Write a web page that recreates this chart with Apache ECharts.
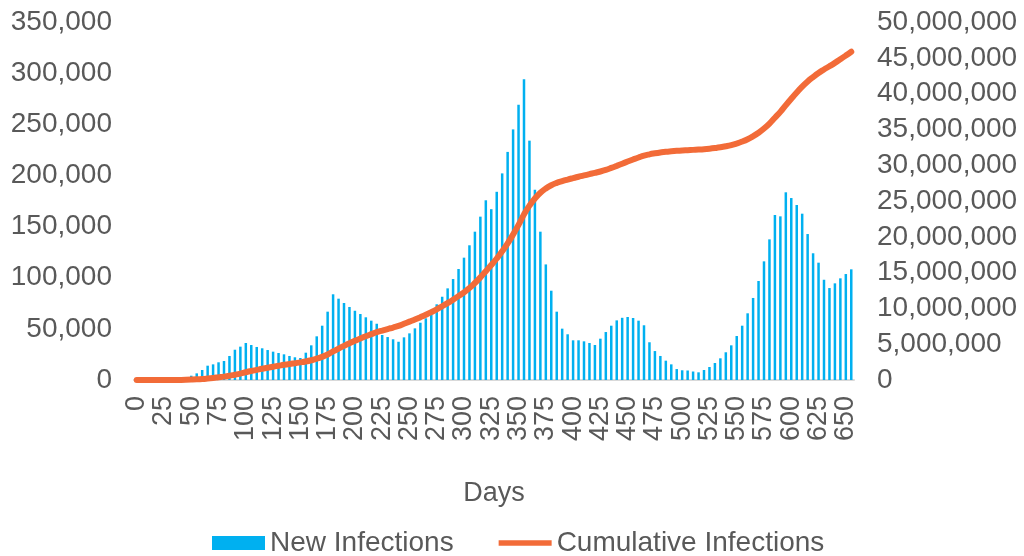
<!DOCTYPE html>
<html>
<head>
<meta charset="utf-8">
<script src="https://cdn.jsdelivr.net/npm/echarts@6/dist/echarts.min.js"></script>
<style>
  html, body { margin: 0; padding: 0; background: #ffffff; }
  #chart { width: 1024px; height: 556px; }
</style>
</head>
<body>
<div id="chart"></div>
<script>
// Day of each sample (every 5 days)
const days = [
  0, 5, 10, 15, 20, 25, 30, 35, 40, 45, 50, 55, 60, 65, 70, 75, 80, 85, 90, 95,
  100, 105, 110, 115, 120, 125, 130, 135, 140, 145, 150, 155, 160, 165, 170, 175, 180, 185, 190, 195,
  200, 205, 210, 215, 220, 225, 230, 235, 240, 245, 250, 255, 260, 265, 270, 275, 280, 285, 290, 295,
  300, 305, 310, 315, 320, 325, 330, 335, 340, 345, 350, 355, 360, 365, 370, 375, 380, 385, 390, 395,
  400, 405, 410, 415, 420, 425, 430, 435, 440, 445, 450, 455, 460, 465, 470, 475, 480, 485, 490, 495,
  500, 505, 510, 515, 520, 525, 530, 535, 540, 545, 550, 555, 560, 565, 570, 575, 580, 585, 590, 595,
  600, 605, 610, 615, 620, 625, 630, 635, 640, 645, 650, 655
];

// New infections per day
const newInfections = [
  0, 0, 0, 0, 100, 200, 400, 800, 1500, 2600, 4200, 6500, 9800, 14000, 15300, 17300, 18600, 23500, 29600, 32600,
  36200, 34200, 32300, 31000, 29300, 27700, 26400, 25100, 23500, 22200, 21500, 26700, 33900, 42700, 53100, 66800, 83800, 79500, 75300, 71400,
  67700, 64500, 61300, 58000, 55000, 44000, 42000, 39800, 37400, 41700, 45600, 50500, 56000, 60300, 65200, 74000, 81400, 89600, 98700, 108500,
  119600, 131700, 145000, 159700, 175700, 167000, 184000, 202000, 223000, 245000, 269000, 294000, 234000, 186000, 145000, 113000, 87300, 66800, 50200, 44700,
  38800, 38800, 37800, 36200, 34200, 40400, 46900, 53100, 58300, 60800, 61600, 60600, 58000, 53500, 36900, 28300, 23500, 18900, 15300, 10700,
  9500, 9300, 8300, 7500, 9800, 12700, 16600, 21200, 27100, 33900, 43000, 53100, 65200, 80200, 96800, 116000, 137500, 161300, 160000, 183500,
  177900, 171100, 162600, 142700, 123900, 114700, 98000, 89900, 94500, 99400, 103600, 108200
];

// Cumulative infections, in millions
const cumulativeMillions = [
  0, 0, 0, 0, 0, 0.002, 0.004, 0.008, 0.015, 0.03, 0.055, 0.09, 0.14, 0.21, 0.29, 0.38, 0.47, 0.59, 0.74, 0.90,
  1.08, 1.25, 1.41, 1.57, 1.72, 1.86, 1.99, 2.12, 2.24, 2.35, 2.46, 2.59, 2.76, 2.97, 3.24, 3.57, 3.99, 4.39, 4.77, 5.13,
  5.47, 5.80, 6.11, 6.40, 6.68, 6.90, 7.12, 7.33, 7.55, 7.85, 8.15, 8.45, 8.78, 9.12, 9.48, 9.87, 10.30, 10.75, 11.22, 11.72,
  12.25, 12.85, 13.55, 14.33, 15.20, 16.05, 16.97, 17.98, 19.09, 20.32, 21.66, 23.13, 24.35, 25.35, 26.15, 26.75, 27.20, 27.53, 27.78, 28.00,
  28.20, 28.39, 28.58, 28.76, 28.93, 29.12, 29.35, 29.62, 29.91, 30.21, 30.51, 30.80, 31.08, 31.34, 31.52, 31.66, 31.78, 31.88, 31.95, 32.01,
  32.06, 32.10, 32.14, 32.18, 32.23, 32.30, 32.39, 32.50, 32.64, 32.81, 33.03, 33.30, 33.63, 34.04, 34.53, 35.12, 35.82, 36.63, 37.45, 38.38,
  39.28, 40.15, 40.97, 41.69, 42.31, 42.88, 43.37, 43.82, 44.29, 44.79, 45.31, 45.85
];

const leftTicks = { min: 0, max: 350000, interval: 50000 };
const rightTicks = { min: 0, max: 50000000, interval: 5000000 };

const textColor = '#595959';
const fontFamily = '"Liberation Sans", Arial, sans-serif';
const fmt = v => Math.round(v).toLocaleString('en-US');

const chart = echarts.init(document.getElementById('chart'), null, { renderer: 'canvas' });

chart.setOption({
  animation: false,
  backgroundColor: '#ffffff',
  textStyle: { fontFamily: fontFamily, color: textColor },
  grid: { left: 134, right: 170, top: 22, bottom: 176, containLabel: false },
  legend: {
    top: 524,
    left: 207,
    itemWidth: 53,
    itemHeight: 14,
    itemGap: 45,
    symbolKeepAspect: true,
    textStyle: { fontSize: 28, color: textColor, fontFamily: fontFamily },
    data: [
      { name: 'New Infections', icon: 'rect' },
      { name: 'Cumulative Infections', icon: 'path://M0,0 L53,0 L53,5.5 L0,5.5 Z' }
    ]
  },
  xAxis: {
    type: 'category',
    data: days.map(String),
    boundaryGap: true,
    name: 'Days',
    nameLocation: 'middle',
    nameGap: 100,
    nameTextStyle: { fontSize: 27, color: textColor, fontFamily: fontFamily },
    axisLine: { show: true, lineStyle: { color: '#d9d9d9', width: 2 } },
    axisTick: { show: false },
    axisLabel: {
      interval: 4,
      rotate: 90,
      fontSize: 27,
      color: textColor,
      fontFamily: fontFamily,
      margin: 16
    },
    splitLine: { show: false }
  },
  yAxis: [
    {
      type: 'value',
      min: leftTicks.min,
      max: leftTicks.max,
      interval: leftTicks.interval,
      axisLine: { show: false },
      axisTick: { show: false },
      splitLine: { show: false },
      axisLabel: { fontSize: 28, color: textColor, margin: 22, formatter: fmt, fontFamily: fontFamily }
    },
    {
      type: 'value',
      min: rightTicks.min,
      max: rightTicks.max,
      interval: rightTicks.interval,
      position: 'right',
      axisLine: { show: false },
      axisTick: { show: false },
      splitLine: { show: false },
      axisLabel: { fontSize: 28, color: textColor, margin: 23, formatter: fmt, fontFamily: fontFamily }
    }
  ],
  series: [
    {
      name: 'New Infections',
      type: 'bar',
      yAxisIndex: 0,
      barWidth: 2.5,
      itemStyle: { color: '#00b0f0' },
      data: newInfections
    },
    {
      name: 'Cumulative Infections',
      type: 'line',
      yAxisIndex: 1,
      smooth: true,
      symbol: 'none',
      lineStyle: { color: '#f26b38', width: 6, cap: 'round' },
      itemStyle: { color: '#f26b38' },
      data: cumulativeMillions.map(v => v * 1000000)
    }
  ]
});
</script>
</body>
</html>
